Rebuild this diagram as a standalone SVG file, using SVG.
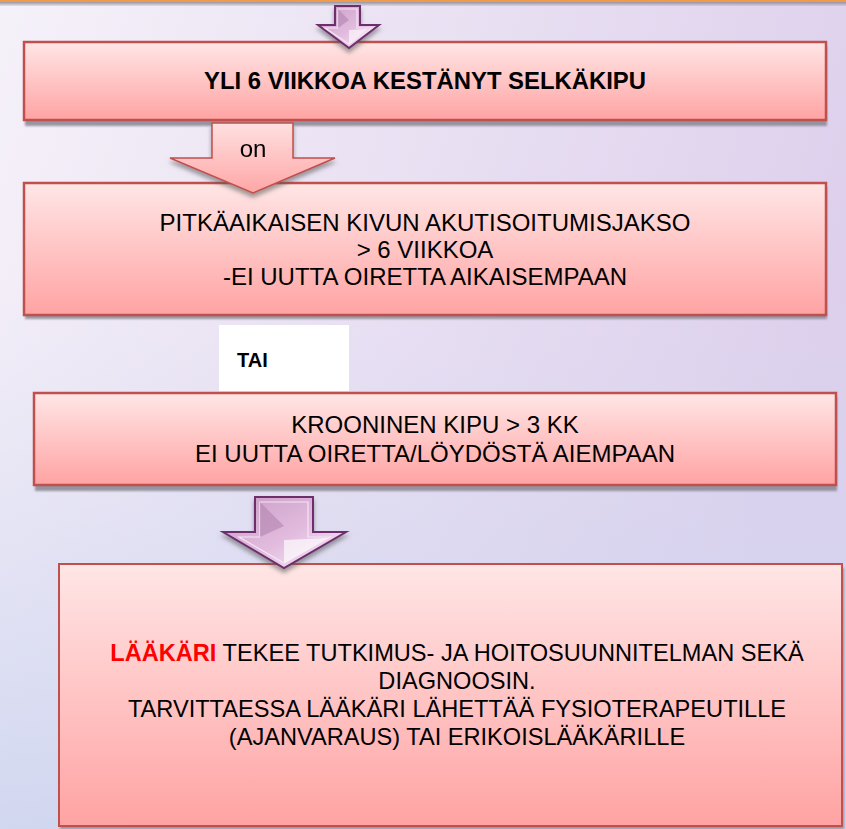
<svg xmlns="http://www.w3.org/2000/svg" width="846" height="829" viewBox="0 0 846 829">
<defs>
<linearGradient id="bg" x1="0" y1="0" x2="1" y2="0.35">
<stop offset="0" stop-color="#f5f1f9"/>
<stop offset="1" stop-color="#ddcfec"/>
</linearGradient>
<linearGradient id="bgV" x1="0" y1="0" x2="0" y2="1">
<stop offset="0" stop-color="#d2dcf2" stop-opacity="0"/>
<stop offset="0.35" stop-color="#d2dcf2" stop-opacity="0"/>
<stop offset="1" stop-color="#c8d2ee" stop-opacity="0.75"/>
</linearGradient>
<linearGradient id="pink" x1="0" y1="0" x2="0" y2="1">
<stop offset="0" stop-color="#ffe6e6"/>
<stop offset="1" stop-color="#ffa3a3"/>
</linearGradient>
<linearGradient id="pinkArrow" x1="0" y1="0" x2="0" y2="1">
<stop offset="0" stop-color="#ffe0e0"/>
<stop offset="1" stop-color="#ffa6a6"/>
</linearGradient>
<linearGradient id="purp" x1="0" y1="0" x2="1" y2="1">
<stop offset="0" stop-color="#c79bc4"/>
<stop offset="0.55" stop-color="#e2bcdf"/>
<stop offset="1" stop-color="#fbf0fa"/>
</linearGradient>
<linearGradient id="topShade" x1="0" y1="0" x2="0" y2="1">
<stop offset="0" stop-color="#8e8c99" stop-opacity="0.9"/>
<stop offset="1" stop-color="#8e8c99" stop-opacity="0.15"/>
</linearGradient>
<filter id="soft" x="-5%" y="-20%" width="110%" height="140%">
<feGaussianBlur stdDeviation="0.8"/>
</filter>
<filter id="ash" x="-20%" y="-20%" width="140%" height="160%">
<feDropShadow dx="0" dy="4" stdDeviation="2" flood-color="#555" flood-opacity="0.55"/>
</filter>
</defs>
<style>
.box{fill:url(#pink);stroke:#c0504d;stroke-width:2.5}
.shadow{fill:#8d8c98;opacity:0.9}
.t{font-family:"Liberation Sans",Arial,sans-serif;font-size:24px;fill:#000;text-anchor:middle}
.s{font-size:23.6px}
.b{font-weight:bold}
.pa{fill:url(#purp);stroke:#6e2e6e;stroke-width:2;stroke-linejoin:miter}
.pin{fill:none;stroke:#f6e4f4;stroke-width:1.2}
</style>

<rect x="0" y="0" width="846" height="829" fill="url(#bg)"/>
<rect x="0" y="0" width="846" height="829" fill="url(#bgV)"/>
<rect x="0" y="0" width="846" height="2" fill="#f29a4c"/>
<rect x="0" y="2" width="846" height="4" fill="url(#topShade)"/>

<g id="box1">
<rect class="shadow" x="25" y="46" width="802" height="80" filter="url(#soft)"/>
<rect class="box" x="24" y="42" width="802" height="78"/>
<text class="t b" x="425" y="89" textLength="442" lengthAdjust="spacingAndGlyphs">YLI 6 VIIKKOA KESTÄNYT SELKÄKIPU</text>
</g>

<g id="box2">
<rect class="shadow" x="25" y="187" width="802" height="132" filter="url(#soft)"/>
<rect class="box" x="24" y="183" width="802" height="132"/>
<text class="t" x="425" y="231">PITKÄAIKAISEN KIVUN AKUTISOITUMISJAKSO</text>
<text class="t" x="425" y="258">&gt; 6 VIIKKOA</text>
<text class="t" x="425" y="285">-EI UUTTA OIRETTA AIKAISEMPAAN</text>
</g>

<g id="tai">
<rect x="219" y="325" width="130" height="66" fill="#ffffff"/>
<text class="t b" x="237" y="367" style="font-size:20px;text-anchor:start">TAI</text>
</g>

<g id="box3">
<rect class="shadow" x="35" y="397" width="802" height="94" filter="url(#soft)"/>
<rect class="box" x="34" y="393" width="802" height="92"/>
<text class="t" x="435" y="433">KROONINEN KIPU &gt; 3 KK</text>
<text class="t" x="435" y="462">EI UUTTA OIRETTA/LÖYDÖSTÄ AIEMPAAN</text>
</g>

<g id="box4">
<rect class="shadow" x="60" y="568" width="784" height="261" filter="url(#soft)"/>
<rect class="box" x="59" y="564" width="783" height="262" style="stroke-width:2"/>
<text class="t s" x="457" y="661"><tspan class="b" fill="#ff0000">LÄÄKÄRI</tspan> TEKEE TUTKIMUS- JA HOITOSUUNNITELMAN SEKÄ</text>
<text class="t s" x="457" y="689">DIAGNOOSIN.</text>
<text class="t s" x="457" y="717">TARVITTAESSA LÄÄKÄRI LÄHETTÄÄ FYSIOTERAPEUTILLE</text>
<text class="t s" x="457" y="745">(AJANVARAUS) TAI ERIKOISLÄÄKÄRILLE</text>
</g>

<g id="connectors">
<g id="arrow-top" filter="url(#ash)">
<polygon class="pa" points="335,6 360,6 360,25 379,25 349,48 318,25 335,25"/>
<polygon class="pin" points="338,9 357,9 357,28 372,28 349,44 325,28 338,28"/>
<polygon points="338,9 349,20 338,28" fill="#b88ab5" opacity="0.7"/>
<polygon points="349,44 349,30 368,29" fill="#ffffff" opacity="0.6"/>
</g>
<g id="arrow-on" filter="url(#ash)">
<polygon points="212,123 293,123 293,158 335,158 253,193 170,158 212,158" fill="url(#pinkArrow)" stroke="#c0504d" stroke-width="1.5" stroke-linejoin="miter"/>
<text class="t" x="253" y="157">on</text>
</g>
<g id="arrow-mid" filter="url(#ash)">
<polygon class="pa" points="255,497 313,497 313,532 346,532 284,568 223,532 255,532"/>
<polygon class="pin" points="260,502 308,502 308,537 330,537 284,563 239,537 260,537"/>
<polygon points="260,502 284,526 260,537" fill="#b88ab5" opacity="0.7"/>
<polygon points="284,563 284,540 328,538" fill="#ffffff" opacity="0.65"/>
</g>
</g>
</svg>
